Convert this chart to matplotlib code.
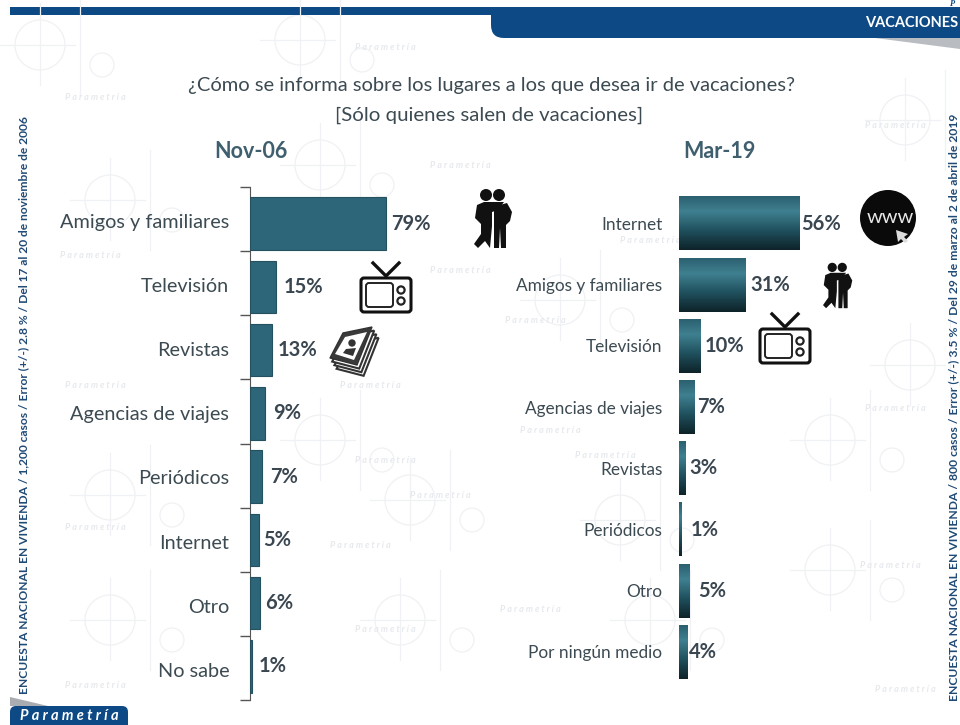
import numpy as np
import matplotlib
matplotlib.use("Agg")
import matplotlib.pyplot as plt
from matplotlib.patches import Circle, FancyBboxPatch, Polygon, Rectangle
from matplotlib.colors import LinearSegmentedColormap

# data
cats_2006 = ["Amigos y familiares", "Televisión", "Revistas", "Agencias de viajes",
             "Periódicos", "Internet", "Otro", "No sabe"]
vals_2006 = [79, 15, 13, 9, 7, 5, 6, 1]
cats_2019 = ["Internet", "Amigos y familiares", "Televisión", "Agencias de viajes",
             "Revistas", "Periódicos", "Otro", "Por ningún medio"]
vals_2019 = [56, 31, 10, 7, 3, 1, 5, 4]

title = "¿Cómo se informa sobre los lugares a los que desea ir de vacaciones?"
subtitle = "[Sólo quienes salen de vacaciones]"
note_2006 = "ENCUESTA NACIONAL EN VIVIENDA / 1,200 casos / Error (+/-) 2.8 % / Del 17 al 20 de noviembre de 2006"
note_2019 = "ENCUESTA NACIONAL EN VIVIENDA / 800 casos / Error (+/-) 3.5 % / Del 29 de marzo al 2 de abril de 2019"

# gaps between bar end and its label, in pixels
gap_2006 = [5, 8, 5, 8, 8, 5, 5, 7]
gap_2019 = [2, 5, 4, 3, 4, 10, 8, 1]

W, H = 960, 725
BLUE = "#0d4a85"
TEAL = "#2d6678"
TEXT = "#3c4a52"
plt.rcParams["font.family"] = ["Lato", "DejaVu Sans"]

fig = plt.figure(figsize=(W / 100, H / 100), dpi=100, facecolor="white")


def px_axes(x0, y0, x1, y1, z=1):
    # axes placed by picture pixels, y counted from the top
    ax = fig.add_axes([x0 / W, 1 - y1 / H, (x1 - x0) / W, (y1 - y0) / H], zorder=z)
    ax.patch.set_alpha(0)
    return ax


bg = px_axes(0, 0, W, H, 0)
bg.set_xlim(0, W)
bg.set_ylim(H, 0)
bg.axis("off")

# watermark
WM = "#eff1f4"
motifs = [(40, 45), (110, 495), (110, 620), (110, 200), (320, 165), (320, 440),
          (400, 620), (560, 300), (620, 520), (650, 620), (830, 570), (905, 120),
          (910, 365), (830, 440), (410, 500), (300, 40)]
for mx, my in motifs:
    bg.add_patch(Circle((mx, my), 25, fill=False, ec=WM, lw=0.9))
    bg.plot([mx - 40, mx + 35], [my, my], color=WM, lw=0.9)
    bg.plot([mx, mx], [my - 42, my + 40], color=WM, lw=0.9)
    bg.plot([mx + 40, mx + 40], [my - 50, my + 50], color=WM, lw=0.9)
    bg.add_patch(Circle((mx + 62, my + 20), 12, fill=False, ec=WM, lw=0.9))
word_spots = [(65, 97), (355, 47), (60, 255), (65, 385), (65, 527), (65, 685), (865, 125),
              (430, 165), (430, 270), (340, 385), (355, 460), (330, 545), (355, 630),
              (505, 320), (520, 430), (575, 455), (620, 240),
              (860, 565), (865, 408), (875, 690), (500, 610), (410, 495)]
for wx, wy in word_spots:
    bg.text(wx, wy, "P a r a m e t r í a", color="#e6e9ed", fontsize=6.5, style="italic",
            fontweight="bold", ha="left", va="center")

# header and footer bands
bg.add_patch(Rectangle((10, 7), 490, 8, color=BLUE, lw=0))
bg.add_patch(FancyBboxPatch((491, -10), 490, 48, boxstyle="round,pad=0,rounding_size=13", color=BLUE, lw=0))
bg.add_patch(Rectangle((0, 0), W, 7, color="white", lw=0))
bg.add_patch(Polygon([(875, 38), (960, 38), (960, 49)], color="#b9bcc0", lw=0))
bg.add_patch(Polygon([(10, 697), (48, 706), (10, 706)], color="#a9adb2", lw=0))
bg.add_patch(FancyBboxPatch((10, 706), 118, 30, boxstyle="round,pad=0,rounding_size=6", color=BLUE, lw=0))
bg.add_patch(Rectangle((0, 0), 10, H, color="white", lw=0))
bg.text(958, 23, "VACACIONES", color="white", fontsize=10.5, fontweight="bold", ha="right", va="center")
bg.text(20, 716, "P a r a m e t r í a", color="white", fontsize=10.5, style="italic", fontweight="bold",
        ha="left", va="center")
bg.text(950, 3.5, "P", color=BLUE, fontsize=6, style="italic", fontweight="bold", family="Liberation Serif",
        ha="left", va="center")

# titles
bg.text(491, 85, title, color=TEXT, fontsize=14.5, ha="center", va="center")
bg.text(489, 115, subtitle, color=TEXT, fontsize=14.7, ha="center", va="center")
bg.text(251, 151, "Nov-06", color="#3f5f6e", fontsize=15.5, fontweight="bold", ha="center", va="center")
bg.text(719, 151, "Mar-19", color="#3f5f6e", fontsize=15.5, fontweight="bold", ha="center", va="center")
bg.text(24, 405, note_2006, color="#1f4a75", fontsize=8.65, fontweight="bold", rotation=90, ha="center", va="center")
bg.text(954, 407, note_2019, color="#1f4a75", fontsize=8.75, fontweight="bold", rotation=90, ha="center", va="center")

# left chart, solid bars on an axis line with tick marks between categories
ax1 = px_axes(250, 187, 422, 700)
ylim1 = (7.53, -0.577)
ax1.barh(range(len(vals_2006)), vals_2006, height=0.83, color=TEAL, edgecolor="#24505f", linewidth=0.8, zorder=3)
ax1.set_xlim(0, 100)
ax1.set_ylim(*ylim1)
edges = np.linspace(ylim1[1], ylim1[0], len(vals_2006) + 1)
ax1.set_yticks(edges, minor=True)
ax1.set_yticks((edges[:-1] + edges[1:]) / 2 + 0.03)
ax1.set_yticklabels(cats_2006, fontsize=14.3, color=TEXT)
ax1.tick_params(axis="y", which="minor", length=7, width=1, color="#555555", left=True)
ax1.tick_params(axis="y", which="major", length=0, pad=15)
ax1.set_xticks([])
for s in ["top", "right", "bottom"]:
    ax1.spines[s].set_visible(False)
ax1.spines["left"].set_color("#555555")
for i, v in enumerate(vals_2006):
    ax1.annotate(f"{v}%", (v, i), xytext=(gap_2006[i], 0), textcoords="offset pixels",
                 fontsize=14.5, fontweight="bold", color="#3a4650", va="center", ha="left", zorder=4)

# right chart, bars with a vertical gradient
ax2 = px_axes(679, 187, 894, 692)
ylim2 = ((692 - 223.5) / 61.2, (187 - 223.5) / 61.2)
cmap = LinearSegmentedColormap.from_list("bar", [(0, "#2b6171"), (0.28, "#3f8090"), (0.65, "#1f4f5c"), (1, "#0e2329")])
grad = np.linspace(0, 1, 64).reshape(-1, 1)
ax2.barh(range(len(vals_2019)), vals_2019, height=0.88, color="none", zorder=2)
for i, v in enumerate(vals_2019):
    ax2.imshow(grad, cmap=cmap, aspect="auto", extent=[0, v, i + 0.44, i - 0.44], zorder=3)
    ax2.annotate(f"{v}%", (v, i), xytext=(gap_2019[i], 0), textcoords="offset pixels",
                 fontsize=14.5, fontweight="bold", color="#3a4650", va="center", ha="left", zorder=4)
ax2.set_xlim(0, 100)
ax2.set_ylim(*ylim2)
ax2.set_yticks(range(len(cats_2019)))
ax2.set_yticklabels(cats_2019, fontsize=12.4, color=TEXT)
ax2.tick_params(axis="y", length=0, pad=12)
ax2.set_xticks([])
for s in ax2.spines.values():
    s.set_visible(False)

# icons
fg = px_axes(0, 0, W, H, 5)
fg.set_xlim(0, W)
fg.set_ylim(H, 0)
fg.axis("off")


def draw_tv(x, y):
    # x, y is the left edge and antenna top
    fg.plot([x + 13, x + 26, x + 39], [y, y + 13, y], color="#111111", lw=2.4)
    fg.add_patch(FancyBboxPatch((x + 1, y + 15), 50, 34, boxstyle="round,pad=0,rounding_size=3", fc="white", ec="#111111", lw=2.2))
    fg.add_patch(FancyBboxPatch((x + 6, y + 20), 27, 24, boxstyle="round,pad=0,rounding_size=3", fc="white", ec="#222222", lw=1.4))
    fg.add_patch(Circle((x + 41, y + 27), 3.6, fc="white", ec="#222222", lw=1.6))
    fg.add_patch(Circle((x + 41, y + 38), 3.6, fc="white", ec="#222222", lw=1.6))


def draw_people(x, y, s):
    # two standing figures with an arm across, 38x60 at s=1
    def p(pts):
        return [(x + a * s, y + b * s) for a, b in pts]
    fg.add_patch(Circle((x + 12 * s, y + 7 * s), 6 * s, color="#111111", lw=0))
    fg.add_patch(Circle((x + 25 * s, y + 7 * s), 6 * s, color="#111111", lw=0))
    fg.add_patch(Polygon(p([(3, 17), (10, 14), (30, 14), (24, 22), (18, 24), (18, 38), (16, 60), (11, 53), (4, 60), (0, 56), (7, 46), (7, 36), (1, 30)]), color="#111111", lw=0))
    fg.add_patch(Polygon(p([(20, 22), (26, 17), (33, 15), (38, 24), (36, 33), (32, 37), (32, 60), (27, 60), (26, 40), (25, 60), (20, 60)]), color="#111111", lw=0))


draw_people(474, 188, 1.0)
draw_people(823, 262, 0.77)
draw_tv(360, 263)
draw_tv(759, 314)

# magazines, a stack of pages behind a dark cover
cover = np.array([(343, 333), (372, 327), (357, 365), (330, 358)])
for k in [3, 2, 1]:
    fg.add_patch(Polygon(cover + [k * 2.2, k * 3.6], fc="white", ec="#333333", lw=1.5))
fg.add_patch(Polygon(cover, fc="#3a3a3a", ec="#333333", lw=1))
fg.add_patch(Polygon([(345, 337), (367, 332), (354, 360), (335, 354)], fc="white", ec="none"))
fg.add_patch(Circle((352, 343), 3, color="#333333"))
fg.add_patch(Polygon([(343, 353), (346, 349), (356, 348), (353, 356)], color="#333333", lw=0))

# www badge
fg.add_patch(Circle((888, 218), 28, color="#0a0a0a", lw=0))
fg.text(890, 217, "www", color="#e8e8e8", fontsize=14.5, ha="center", va="center")
fg.add_patch(Polygon([(896, 230), (908, 234), (904, 237), (908, 241), (905, 243), (901, 239), (898, 242)], color="#dddddd", lw=0))

fig.savefig("out.png", dpi=100)
